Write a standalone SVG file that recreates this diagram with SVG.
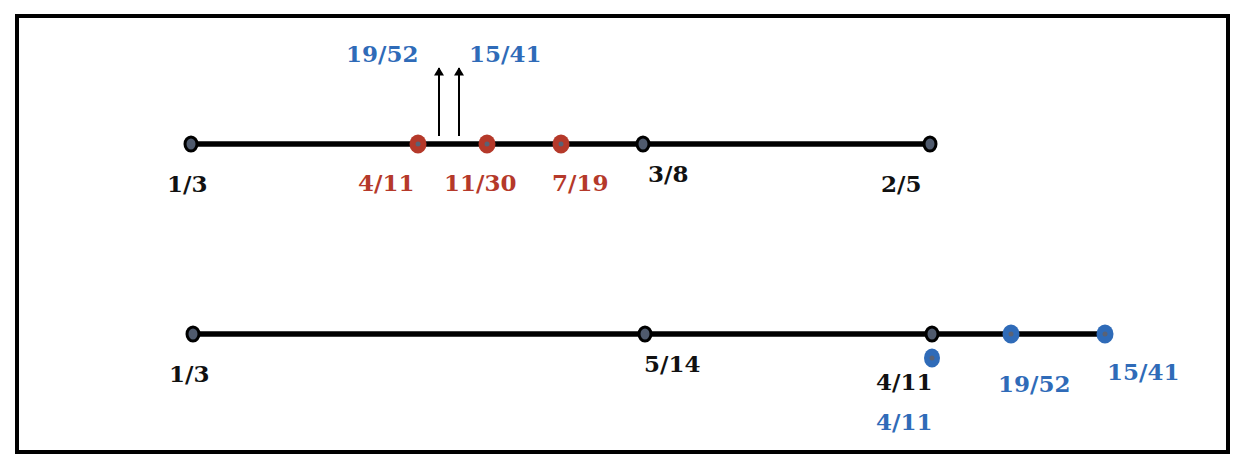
<svg xmlns="http://www.w3.org/2000/svg" width="1240" height="464" viewBox="0 0 1240 464">
<style>
text{font-family:"DejaVu Serif","Liberation Serif",serif;font-weight:bold;font-size:23px}
.k{fill:#111}
.r{fill:#b5392a}
.b{fill:#2f6bb8}
.line{stroke:#000;stroke-width:5.5;fill:none}
.arr{stroke:#000;stroke-width:2;fill:none}
.nd{fill:#4f5a6d;stroke:#000;stroke-width:3}
.rd{fill:#b5392a}
.bd{fill:#2f6bb8}
.core{fill:#5a6275}
</style>
<defs>
<marker id="ah" viewBox="0 0 10 12" refX="9" refY="6" markerWidth="6" markerHeight="5" orient="auto" markerUnits="strokeWidth">
<path d="M0,0 L10,6 L0,12 z" fill="#000"/>
</marker>
</defs>
<rect x="17" y="16" width="1211" height="436" fill="#fff" stroke="#000" stroke-width="4"/>
<g id="connectors">
<line class="line" x1="191" y1="144" x2="930" y2="144"/>
<line class="line" x1="193" y1="334" x2="1105" y2="334"/>
<line class="arr" x1="439" y1="136" x2="439" y2="68" marker-end="url(#ah)"/>
<line class="arr" x1="459" y1="136" x2="459" y2="68" marker-end="url(#ah)"/>
</g>
<g id="top-1-3"><ellipse class="nd" cx="191" cy="144" rx="6" ry="7"/><text class="k" x="167" y="192">1/3</text></g>
<g id="top-4-11"><ellipse class="rd" cx="418" cy="144" rx="8.5" ry="9.5"/><circle class="core" cx="418" cy="144" r="2.5"/><text class="r" x="358" y="191">4/11</text></g>
<g id="top-11-30"><ellipse class="rd" cx="487" cy="144" rx="8.5" ry="9.5"/><circle class="core" cx="487" cy="144" r="2.5"/><text class="r" x="444" y="191">11/30</text></g>
<g id="top-7-19"><ellipse class="rd" cx="561" cy="144" rx="8.5" ry="9.5"/><circle class="core" cx="561" cy="144" r="2.5"/><text class="r" x="552" y="191">7/19</text></g>
<g id="top-3-8"><ellipse class="nd" cx="643" cy="144" rx="6" ry="7"/><text class="k" x="648" y="182">3/8</text></g>
<g id="top-2-5"><ellipse class="nd" cx="930" cy="144" rx="6" ry="7"/><text class="k" x="881" y="192">2/5</text></g>
<g id="top-19-52"><text class="b" x="346" y="62">19/52</text></g>
<g id="top-15-41"><text class="b" x="469" y="62">15/41</text></g>
<g id="bot-1-3"><ellipse class="nd" cx="193" cy="334" rx="6" ry="7"/><text class="k" x="169" y="382">1/3</text></g>
<g id="bot-5-14"><ellipse class="nd" cx="645" cy="334" rx="6" ry="7"/><text class="k" x="644" y="372">5/14</text></g>
<g id="bot-4-11"><ellipse class="nd" cx="932" cy="334" rx="6" ry="7"/><text class="k" x="876" y="390">4/11</text></g>
<g id="bot-4-11-blue"><ellipse class="bd" cx="932" cy="358" rx="8" ry="9.5"/><circle class="core" cx="932" cy="358" r="2.5"/><text class="b" x="876" y="430">4/11</text></g>
<g id="bot-19-52"><ellipse class="bd" cx="1011" cy="334" rx="8.5" ry="9.5"/><circle class="core" cx="1011" cy="334" r="2.5"/><text class="b" x="998" y="392">19/52</text></g>
<g id="bot-15-41"><ellipse class="bd" cx="1105" cy="334" rx="8.5" ry="9.5"/><circle class="core" cx="1105" cy="334" r="2.5"/><text class="b" x="1107" y="380">15/41</text></g>
</svg>
